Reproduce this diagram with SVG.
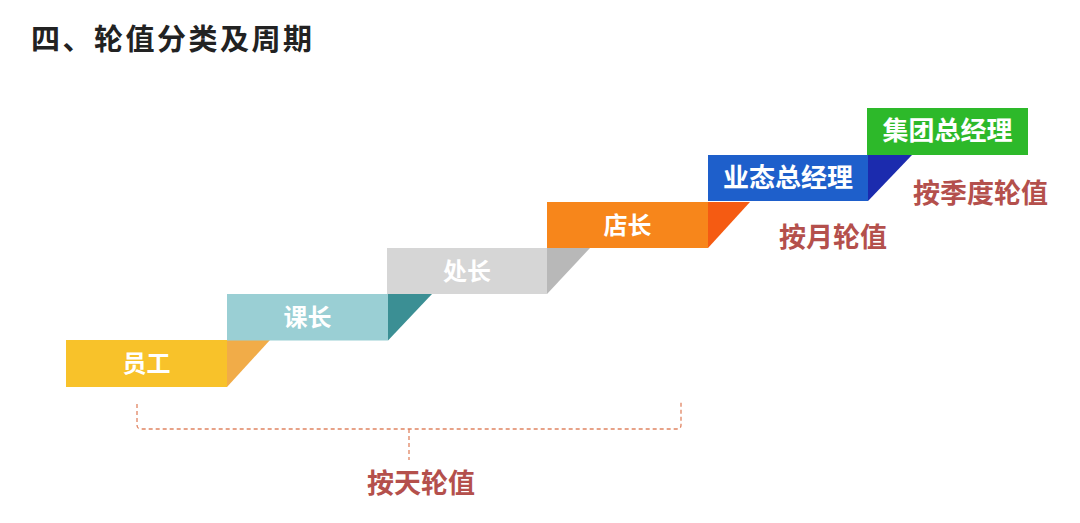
<svg xmlns="http://www.w3.org/2000/svg" width="1080" height="523" viewBox="0 0 1080 523">
<style>
.t{font-family:"Noto Sans CJK SC","Noto Sans",sans-serif;font-weight:700;}
.title{font-size:29px;fill:#222222;letter-spacing:2.5px;}
.n{font-size:24px;fill:#ffffff;text-anchor:middle;}
.nl{font-size:26px;}
.lab{font-size:27px;fill:#B4504C;text-anchor:middle;}
.br{fill:none;stroke:#E08462;stroke-width:1.3;stroke-dasharray:4 3;}
</style>
<rect width="1080" height="523" fill="#ffffff"/>
<text class="t title" x="31" y="50">四、轮值分类及周期</text>
<g id="node-yuangong">
<rect x="66" y="340" width="161" height="47" fill="#F8C22A"/>
<polygon points="227,340 270,340 227,387" fill="#F1AC48"/>
<text class="t n" x="146.5" y="372">员工</text>
</g>
<g id="node-kezhang">
<rect x="227" y="294" width="161" height="46.5" fill="#9ACFD4"/>
<polygon points="388,294 432,294 388,340.5" fill="#3B8F94"/>
<text class="t n" x="307.5" y="326">课长</text>
</g>
<g id="node-chuzhang">
<rect x="387" y="248" width="160" height="46" fill="#D6D6D6"/>
<polygon points="547,248 590,248 547,294" fill="#B8B8B8"/>
<text class="t n" x="467" y="280">处长</text>
</g>
<g id="node-dianzhang">
<rect x="547" y="202" width="161" height="46" fill="#F7861B"/>
<polygon points="708,202 750,202 708,248" fill="#F55B12"/>
<text class="t n" x="627.5" y="234">店长</text>
</g>
<g id="node-yetai">
<rect x="708" y="155" width="160" height="46" fill="#1E5FCB"/>
<polygon points="868,155 912,155 868,201" fill="#1B2BAE"/>
<text class="t n nl" x="788" y="187">业态总经理</text>
</g>
<g id="node-jituan">
<rect x="867" y="108" width="161" height="47" fill="#2DB92A"/>
<text class="t n nl" x="947.5" y="140">集团总经理</text>
</g>
<g id="connectors">
<path class="br" d="M137,404 L137,425 Q137,429 141,429 L677,429 Q681,429 681,425 L681,402"/>
<path class="br" d="M409,429 L409,460"/>
</g>
<g id="labels">
<text class="t lab" x="421" y="493">按天轮值</text>
<text class="t lab" x="833" y="247">按月轮值</text>
<text class="t lab" x="980.5" y="203">按季度轮值</text>
</g>
</svg>
